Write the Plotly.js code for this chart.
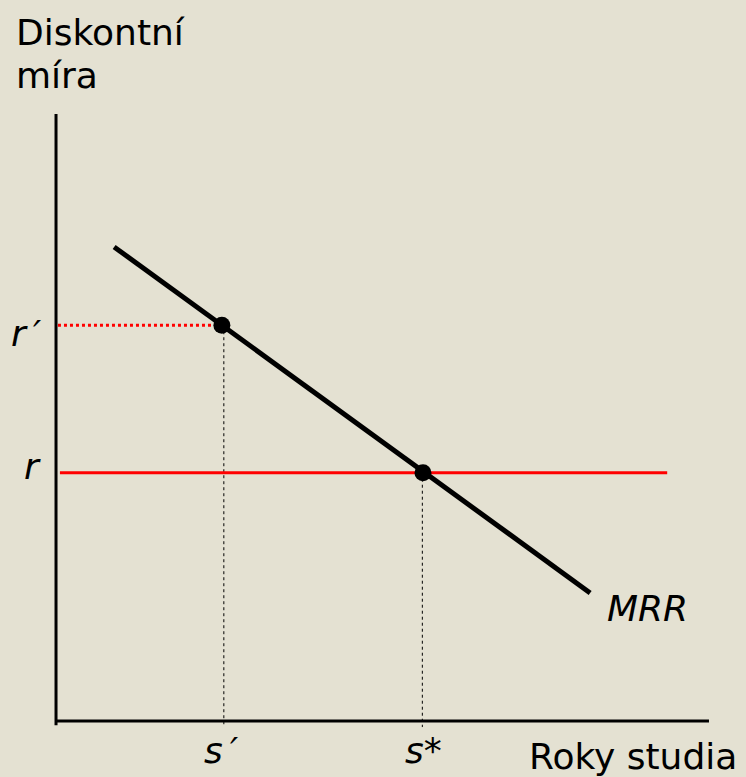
<!DOCTYPE html>
<html>
<head>
<meta charset="utf-8">
<script src="https://cdn.plot.ly/plotly-3.0.1.min.js"></script>
<style>
  html, body { margin: 0; padding: 0; background: #E4E1D2; }
  #chart { width: 746px; height: 777px; }
</style>
</head>
<body>
<div id="chart"></div>
<script>
// MRR curve (marginal rate of return)
const mrrX = [0.89, 8.18];
const mrrY = [7.81, 2.11];

// equilibrium points: s' with r', s* with r
const pointX = [2.54, 5.62];
const pointY = [6.52, 4.09];

// discount rate r (solid red) and r' (dotted red)
const rLineX = [0.06, 9.36];
const rLineY = [4.09, 4.09];
const rPrimeX = [0.03, 2.54];
const rPrimeY = [6.52, 6.52];

// drop lines to the horizontal axis
const dropSPrimeX = [2.57, 2.57];
const dropSPrimeY = [6.52, -0.1];
const dropSStarX = [5.61, 5.61];
const dropSStarY = [4.09, -0.1];

// axes
const yAxisX = [0, 0];
const yAxisY = [10, -0.07];
const xAxisX = [0, 10];
const xAxisY = [0, 0];

// labels
const labelText = ['Diskontní', 'míra', '<i>r\u2009′</i>', '<i>r</i>', '<i>s\u2009′</i>', '<i>s*</i>', 'Roky studia', '<i>MRR</i>'];
const labelX = [-0.643, -0.643, -0.2, -0.2, 2.24, 5.31, 7.21, 8.4];
const labelY = [11.35, 10.63, 6.39, 4.2, -0.49, -0.49, -0.59, 1.86];
const labelAnchor = ['left', 'left', 'right', 'right', 'left', 'left', 'left', 'left'];

function line(x, y, color, width, dash) {
  return {
    x: x, y: y, type: 'scatter', mode: 'lines',
    line: {color: color, width: width, dash: dash || 'solid'},
    hoverinfo: 'skip', showlegend: false
  };
}

const traces = [
  line(yAxisX, yAxisY, '#000000', 3),
  line(xAxisX, xAxisY, '#000000', 3),
  line(dropSPrimeX, dropSPrimeY, '#000000', 1, 'dot'),
  line(dropSStarX, dropSStarY, '#000000', 1, 'dot'),
  line(rPrimeX, rPrimeY, '#FF0000', 3, 'dot'),
  line(rLineX, rLineY, '#FF0000', 3),
  line(mrrX, mrrY, '#000000', 5),
  {
    x: pointX, y: pointY, type: 'scatter', mode: 'markers',
    marker: {color: '#000000', size: 17},
    hoverinfo: 'skip', showlegend: false
  }
];

const annotations = labelText.map((t, i) => ({
  x: labelX[i], y: labelY[i], xref: 'x', yref: 'y',
  text: t, showarrow: false,
  xanchor: labelAnchor[i], yanchor: 'middle',
  font: {family: 'DejaVu Sans, Verdana, sans-serif', size: 36, color: '#000000'}
}));

const layout = {
  width: 746,
  height: 777,
  margin: {l: 0, r: 0, t: 0, b: 0},
  paper_bgcolor: '#E4E1D2',
  plot_bgcolor: '#E4E1D2',
  xaxis: {range: [-0.858, 10.567], visible: false, fixedrange: true},
  yaxis: {range: [-0.923, 11.878], visible: false, fixedrange: true},
  annotations: annotations,
  showlegend: false
};

Plotly.newPlot('chart', traces, layout, {staticPlot: true, displayModeBar: false});
</script>
</body>
</html>
